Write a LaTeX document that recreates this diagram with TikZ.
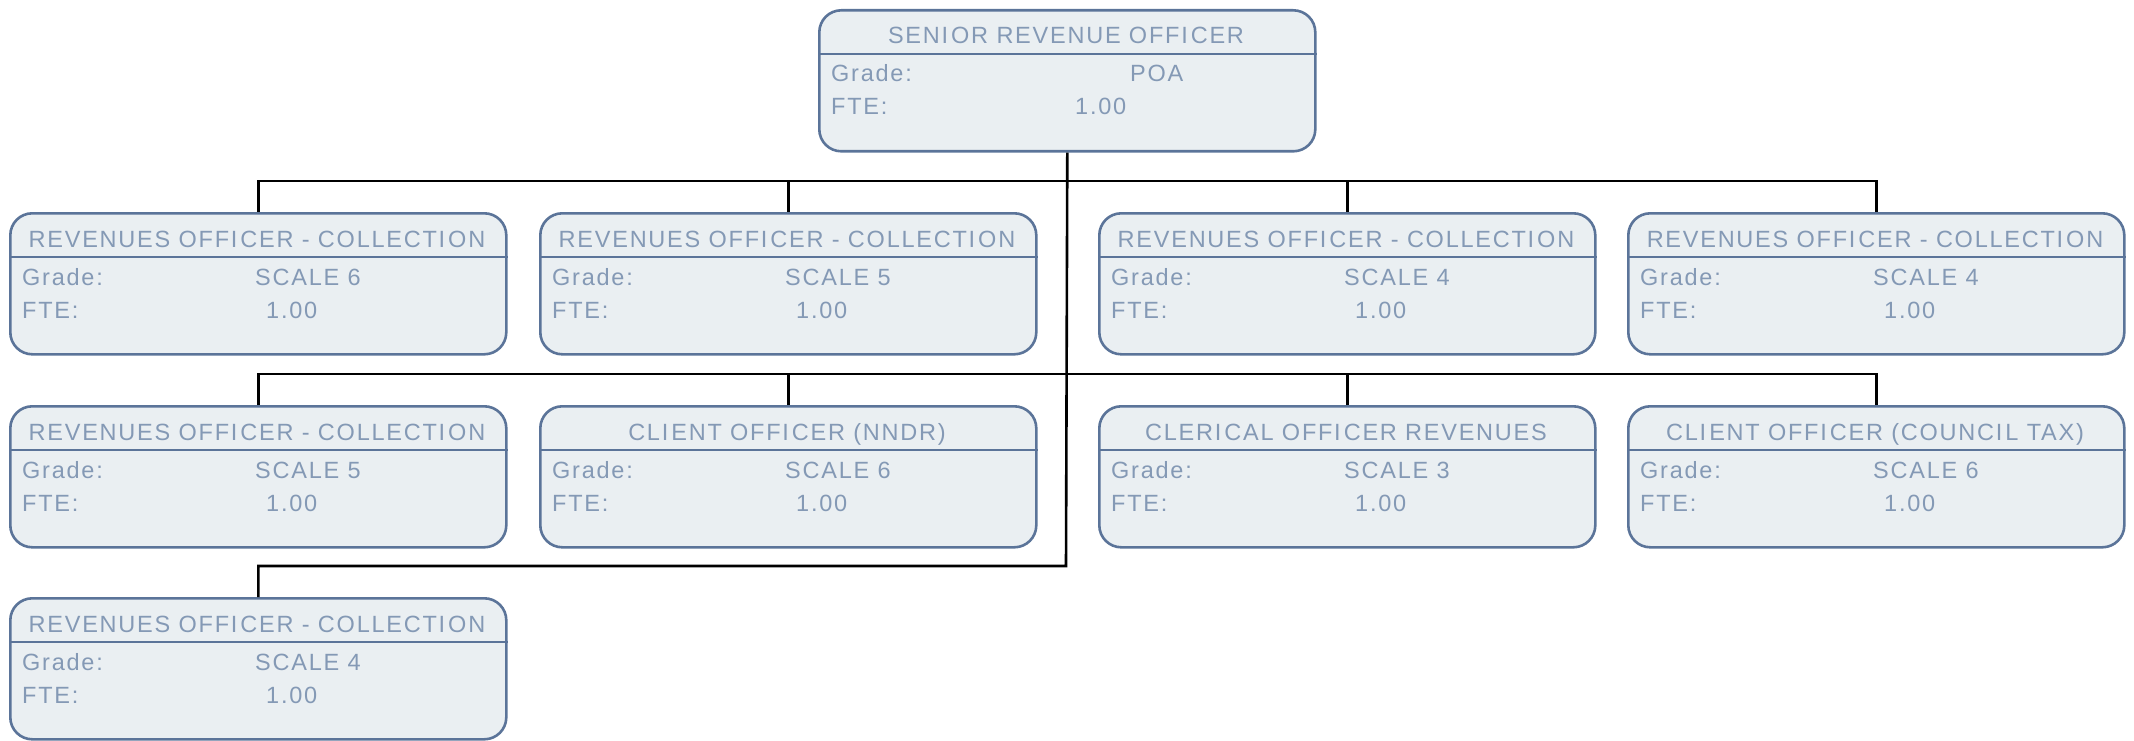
\documentclass[tikz,border=0pt]{standalone}
\usepackage{fontspec}
\setmainfont{Liberation Sans}[LetterSpace=7.5]
\definecolor{boxfill}{HTML}{EAEFF2}
\definecolor{boxline}{HTML}{5B7499}
\definecolor{boxtext}{HTML}{8499B5}
\newcommand\Ig{I\kern3pt\relax}
\newcommand\mkbox[8]{% name, left, top, title, grade, fte, grade offset, title center offset
  \node[orgbox] (#1) at (#2+1,#3+1) {};
  \draw[boxline, line width=2.6pt] ([yshift=-45pt]#1.north west) -- ([yshift=-45pt]#1.north east);
  \node[txt, anchor=base] (#1-t) at (#2+#8,#3+36) {#4};
  \node[txt, anchor=base west] (#1-gl) at (#2+14,#3+74) {Grade:};
  \node[txt, anchor=base west] (#1-gv) at (#2+#7,#3+74) {#5};
  \node[txt, anchor=base west] (#1-fl) at (#2+14,#3+107) {FTE:};
  \node[txt, anchor=base west] (#1-fv) at (#2+258,#3+107) {#6};
}
\begin{document}
\begin{tikzpicture}[x=1pt,y=-1pt,
  orgbox/.style={draw=boxline, fill=boxfill, line width=2.6pt, rounded corners=22pt,
    minimum width=496pt, minimum height=141pt, inner sep=0pt, anchor=north west},
  txt/.style={inner sep=0pt, text=boxtext, font=\fontsize{23.5}{28}\selectfont},
  conn/.style={draw=black, line width=2.6pt},
]
\useasboundingbox (0,0) rectangle (2134,741);
% boxes
\mkbox{top}{817}{8}{SEN\Ig OR REVENUE OFF\Ig CER}{POA}{1.00}{313}{249}
\mkbox{r1a}{8}{211}{REVENUES OFF\Ig CER - COLLECT\Ig ON}{SCALE 6}{1.00}{247}{249}
\mkbox{r1b}{538}{211}{REVENUES OFF\Ig CER - COLLECT\Ig ON}{SCALE 5}{1.00}{247}{249}
\mkbox{r1c}{1097}{211}{REVENUES OFF\Ig CER - COLLECT\Ig ON}{SCALE 4}{1.00}{247}{249}
\mkbox{r1d}{1626}{211}{REVENUES OFF\Ig CER - COLLECT\Ig ON}{SCALE 4}{1.00}{247}{249}
\mkbox{r2a}{8}{404}{REVENUES OFF\Ig CER - COLLECT\Ig ON}{SCALE 5}{1.00}{247}{249}
\mkbox{r2b}{538}{404}{CL\Ig ENT OFF\Ig CER (NNDR)}{SCALE 6}{1.00}{247}{249}
\mkbox{r2c}{1097}{404}{CLER\Ig CAL OFF\Ig CER REVENUES}{SCALE 3}{1.00}{247}{249}
\mkbox{r2d}{1626}{404}{CL\Ig ENT OFF\Ig CER (COUNC\Ig L TAX)}{SCALE 6}{1.00}{247}{249}
\mkbox{r3a}{8}{596}{REVENUES OFF\Ig CER - COLLECT\Ig ON}{SCALE 4}{1.00}{247}{249}
% connectors
\coordinate (bus3) at (1066,566);
\draw[conn] (top.south) -- (bus3) -| (r3a.north);
\draw[conn] (r1a.north) -- ++(0,-31) -| (r1d.north);
\draw[conn] (r1b.north) -- ++(0,-31);
\draw[conn] (r1c.north) -- ++(0,-31);
\draw[conn] (r2a.north) -- ++(0,-31) -| (r2d.north);
\draw[conn] (r2b.north) -- ++(0,-31);
\draw[conn] (r2c.north) -- ++(0,-31);
\end{tikzpicture}
\end{document}
